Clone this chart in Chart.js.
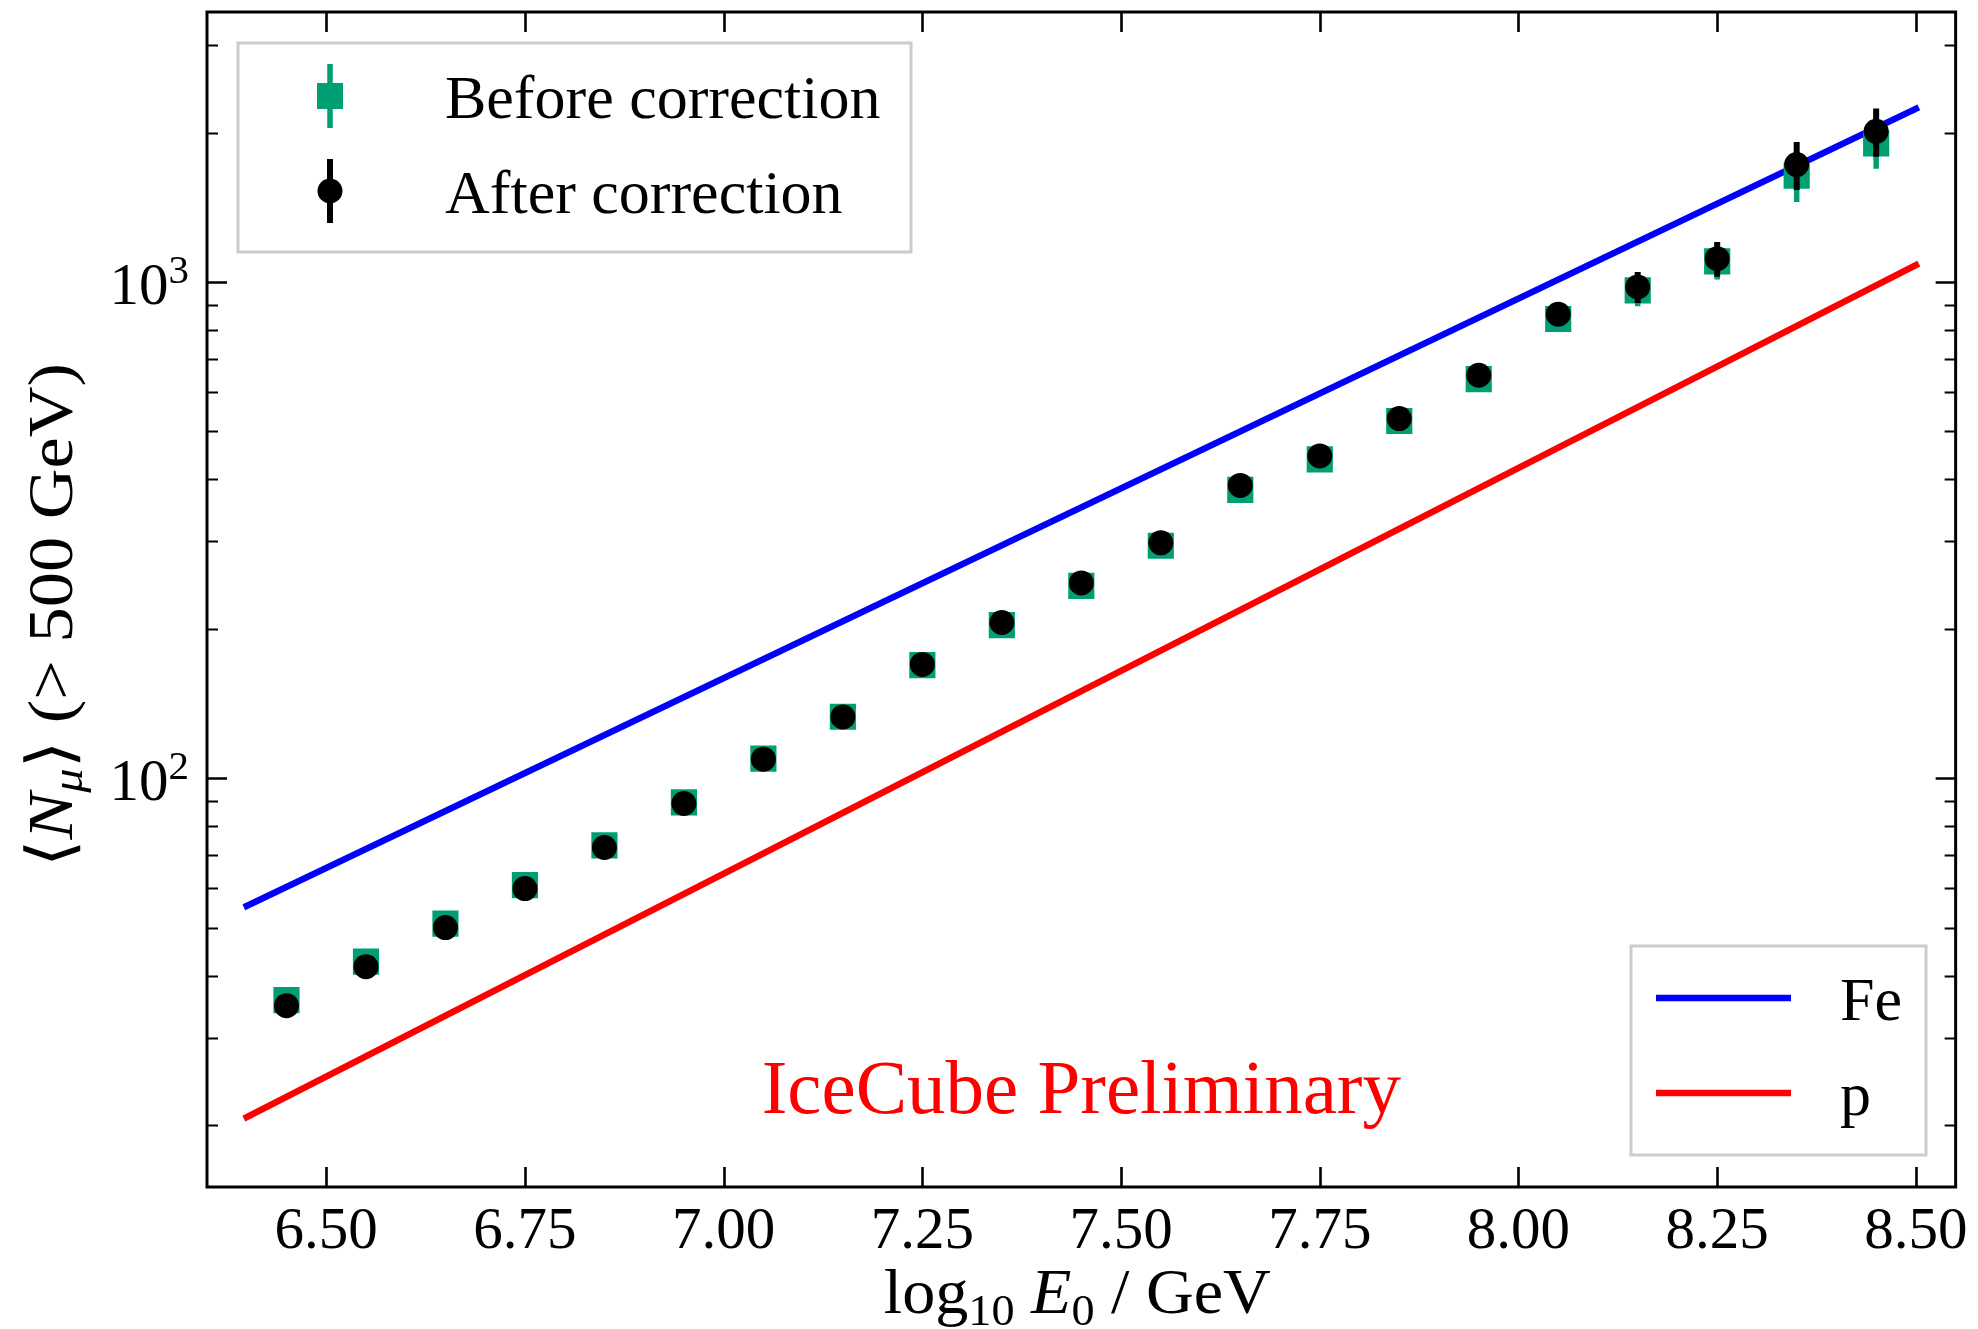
<!DOCTYPE html>
<html>
<head>
<meta charset="utf-8">
<title>Mean muon number vs primary energy</title>
<script src="https://cdn.jsdelivr.net/npm/chart.js@4/dist/chart.umd.min.js"></script>
<style>
  html, body { margin: 0; padding: 0; background: #ffffff; }
  #wrap { width: 1978px; height: 1329px; }
</style>
</head>
<body>
<div id="wrap"><canvas id="chart" width="1978" height="1329"></canvas></div>
<script>
// Bin centres in log10(E0 / GeV)
const energies = [6.45, 6.55, 6.65, 6.75, 6.85, 6.95, 7.05, 7.15, 7.25, 7.35, 7.45,
                  7.55, 7.65, 7.75, 7.85, 7.95, 8.05, 8.15, 8.25, 8.35, 8.45];

// <N_mu> (> 500 GeV) before the correction, with uncertainties
const nmuBefore = [35.7, 42.7, 50.9, 60.9, 73.2, 89.4, 109.5, 133.0, 169.0, 203.4, 244.0,
                   294.0, 381.0, 439.0, 524.5, 637.0, 842.0, 962.0, 1100.0, 1637.0, 1903.0];
const nmuBeforeErr = [1.0, 1.1, 1.3, 1.6, 2.0, 2.5, 3.0, 3.8, 5.0, 6.5, 8.5,
                      11.0, 15.0, 19.0, 25.0, 33.0, 45.0, 69.0, 89.0, 188.0, 211.0];

// <N_mu> (> 500 GeV) after the correction, with uncertainties
const nmuAfter = [34.8, 41.7, 50.0, 59.9, 72.5, 88.9, 109.2, 132.9, 169.5, 205.9, 247.5,
                  298.0, 389.0, 446.0, 530.6, 648.6, 860.8, 977.0, 1114.0, 1724.0, 2012.0];
const nmuAfterErr = [1.0, 1.1, 1.3, 1.6, 2.0, 2.5, 3.0, 3.8, 5.0, 6.5, 8.5,
                     11.0, 15.0, 19.0, 25.0, 33.0, 45.0, 70.0, 90.0, 191.0, 224.0];

// Simulation expectations (power laws, straight on log axes)
const modelEnergy = [6.4, 8.5];
const ironNmu = [55.3, 2234.0];
const protonNmu = [20.75, 1081.0];

// Axis ticks
const xTickValues = [6.5, 6.75, 7.0, 7.25, 7.5, 7.75, 8.0, 8.25, 8.5];
const yMajorTicks = [100, 1000];
const yMajorExponents = ['2', '3'];
const yMinorTicks = [20, 30, 40, 50, 60, 70, 80, 90, 200, 300, 400, 500, 600, 700, 800, 900, 2000, 3000];

const SERIF = '"Liberation Serif", "DejaVu Serif", serif';
const GREEN = '#009E73';

function toPoints(xs, ys) { return xs.map((x, i) => ({ x: x, y: ys[i] })); }

function fontStr(seg) {
  return (seg.italic ? 'italic ' : '') + seg.size + 'px ' + SERIF;
}

// Draws a run of text pieces (used for sub/superscripts); returns the total width
function richText(ctx, segs, x, y, align) {
  let total = 0;
  segs.forEach(s => { ctx.font = fontStr(s); s.w = ctx.measureText(s.t).width; total += s.w; });
  let cx = x;
  if (align === 'center') cx = x - total / 2;
  else if (align === 'right') cx = x - total;
  segs.forEach(s => {
    ctx.font = fontStr(s);
    ctx.fillText(s.t, cx, y + (s.dy || 0));
    cx += s.w;
  });
  return total;
}

// Vertical error bars, painted just before each dataset's markers
const errorBars = {
  id: 'errorBars',
  beforeDatasetDraw(chart, args) {
    const ds = chart.data.datasets[args.index];
    if (!ds.errors) return;
    const { ctx, chartArea, scales: { x, y } } = chart;
    ctx.save();
    ctx.beginPath();
    ctx.rect(chartArea.left, chartArea.top, chartArea.width, chartArea.height);
    ctx.clip();
    ctx.strokeStyle = ds.backgroundColor;
    ctx.lineWidth = ds.errorWidth;
    ctx.lineCap = 'butt';
    ds.data.forEach((p, i) => {
      const e = ds.errors[i];
      const px = x.getPixelForValue(p.x);
      ctx.beginPath();
      ctx.moveTo(px, y.getPixelForValue(p.y - e));
      ctx.lineTo(px, y.getPixelForValue(p.y + e));
      ctx.stroke();
    });
    ctx.restore();
  }
};

// Axes frame with inward ticks on all four sides
const frameAndTicks = {
  id: 'frameAndTicks',
  afterDatasetsDraw(chart) {
    const { ctx, chartArea: a, scales: { x, y } } = chart;
    ctx.save();
    ctx.strokeStyle = '#000';
    ctx.lineCap = 'butt';

    ctx.lineWidth = 2.6;
    xTickValues.forEach(v => {
      const px = Math.round(x.getPixelForValue(v)) + 0.5;
      ctx.beginPath();
      ctx.moveTo(px, a.bottom); ctx.lineTo(px, a.bottom - 20);
      ctx.moveTo(px, a.top); ctx.lineTo(px, a.top + 20);
      ctx.stroke();
    });
    yMajorTicks.forEach(v => {
      const py = Math.round(y.getPixelForValue(v)) + 0.5;
      ctx.beginPath();
      ctx.moveTo(a.left, py); ctx.lineTo(a.left + 20, py);
      ctx.moveTo(a.right, py); ctx.lineTo(a.right - 20, py);
      ctx.stroke();
    });
    ctx.lineWidth = 2.0;
    yMinorTicks.forEach(v => {
      const py = Math.round(y.getPixelForValue(v)) + 0.5;
      ctx.beginPath();
      ctx.moveTo(a.left, py); ctx.lineTo(a.left + 11, py);
      ctx.moveTo(a.right, py); ctx.lineTo(a.right - 11, py);
      ctx.stroke();
    });

    ctx.lineWidth = 3;
    ctx.strokeRect(a.left, a.top, a.width, a.height);
    ctx.restore();
  }
};

// Axis titles, y tick labels, legends and the annotation
const annotations = {
  id: 'annotations',
  afterDraw(chart) {
    const { ctx, chartArea: a, scales: { x, y } } = chart;
    const ds = chart.data.datasets;
    ctx.save();
    ctx.fillStyle = '#000';
    ctx.textBaseline = 'alphabetic';

    // y tick labels 10^2, 10^3
    yMajorTicks.forEach((v, i) => {
      const py = y.getPixelForValue(v);
      const segs = [
        { t: '10', size: 59 },
        { t: yMajorExponents[i], size: 41, dy: -21 }
      ];
      richText(ctx, segs, a.left - 18, py + 22, 'right');
    });

    // x axis title
    ctx.save();
    ctx.translate((a.left + a.right) / 2 - 4, 1313);
    ctx.scale(1.05, 1);
    richText(ctx, [
      { t: 'log', size: 63 },
      { t: '10', size: 44, dy: 12 },
      { t: ' ', size: 63 },
      { t: 'E', size: 63, italic: true },
      { t: '0', size: 44, dy: 12 },
      { t: ' / GeV', size: 63 }
    ], 0, 0, 'center');
    ctx.restore();

    // y axis title (rotated)
    ctx.save();
    ctx.translate(72, 615);
    ctx.rotate(-Math.PI / 2);
    ctx.scale(1.1, 1);
    richText(ctx, [
      { t: '\u27E8', size: 64 },
      { t: 'N', size: 64, italic: true },
      { t: '\u03BC', size: 44, italic: true, dy: 10 },
      { t: '\u27E9', size: 64 },
      { t: ' (> 500 GeV)', size: 64 }
    ], 0, 0, 'center');
    ctx.restore();

    // annotation
    ctx.fillStyle = '#ff0000';
    ctx.font = '77px ' + SERIF;
    ctx.textAlign = 'center';
    ctx.fillText('IceCube Preliminary', (a.left + a.right) / 2, 1113);
    ctx.textAlign = 'left';

    // legend boxes
    function box(x0, y0, x1, y1) {
      ctx.fillStyle = 'rgba(255,255,255,0.8)';
      ctx.fillRect(x0, y0, x1 - x0, y1 - y0);
      ctx.strokeStyle = '#cccccc';
      ctx.lineWidth = 3;
      ctx.strokeRect(x0, y0, x1 - x0, y1 - y0);
    }

    // upper-left legend: measurements
    box(238, 43, 911, 252);
    const mx = 330;
    // before correction: square with bar
    ctx.fillStyle = GREEN;
    ctx.fillRect(mx - 2.75, 64, 5.5, 64);
    ctx.fillRect(mx - 13, 96 - 13, 26, 26);
    // after correction: circle with bar
    ctx.fillStyle = '#000';
    ctx.fillRect(mx - 3, 159, 6, 64);
    ctx.beginPath();
    ctx.arc(mx, 191, 12.5, 0, Math.PI * 2);
    ctx.fill();
    ctx.font = '62px ' + SERIF;
    ctx.fillStyle = '#000';
    ctx.fillText(ds[1].label, 445, 118);
    ctx.fillText(ds[0].label, 445, 213);

    // lower-right legend: simulation lines
    box(1631, 946, 1926, 1155);
    ctx.lineWidth = 6.5;
    ctx.lineCap = 'butt';
    ctx.strokeStyle = ds[2].borderColor;
    ctx.beginPath(); ctx.moveTo(1656, 998); ctx.lineTo(1791, 998); ctx.stroke();
    ctx.strokeStyle = ds[3].borderColor;
    ctx.beginPath(); ctx.moveTo(1656, 1093); ctx.lineTo(1791, 1093); ctx.stroke();
    ctx.fillStyle = '#000';
    ctx.font = '62px ' + SERIF;
    ctx.fillText(ds[2].label, 1840, 1020);
    ctx.fillText(ds[3].label, 1840, 1115);

    ctx.restore();
  }
};

new Chart(document.getElementById('chart'), {
  type: 'scatter',
  data: {
    datasets: [
      {
        label: 'After correction',
        data: toPoints(energies, nmuAfter),
        errors: nmuAfterErr,
        errorWidth: 6,
        backgroundColor: '#000000',
        borderWidth: 0,
        pointStyle: 'circle',
        pointRadius: 12.5,
        showLine: false,
        order: 0
      },
      {
        label: 'Before correction',
        data: toPoints(energies, nmuBefore),
        errors: nmuBeforeErr,
        errorWidth: 5.5,
        backgroundColor: GREEN,
        borderWidth: 0,
        pointStyle: 'rect',
        pointRadius: 18.5,
        showLine: false,
        order: 1
      },
      {
        label: 'Fe',
        data: toPoints(modelEnergy, ironNmu),
        borderColor: '#0000ff',
        backgroundColor: '#0000ff',
        borderWidth: 6.5,
        borderCapStyle: 'square',
        pointRadius: 0,
        showLine: true,
        order: 2
      },
      {
        label: 'p',
        data: toPoints(modelEnergy, protonNmu),
        borderColor: '#ff0000',
        backgroundColor: '#ff0000',
        borderWidth: 6.5,
        borderCapStyle: 'square',
        pointRadius: 0,
        showLine: true,
        order: 3
      }
    ]
  },
  options: {
    responsive: false,
    animation: false,
    devicePixelRatio: 1,
    layout: { autoPadding: false, padding: { top: 12, right: 21, left: 0, bottom: 0 } },
    plugins: {
      legend: { display: false },
      tooltip: { enabled: false }
    },
    events: [],
    scales: {
      x: {
        type: 'linear',
        min: 6.35,
        max: 8.55,
        grid: { display: false, drawTicks: false },
        border: { display: false },
        afterBuildTicks: s => { s.ticks = xTickValues.map(v => ({ value: v })); },
        afterFit: s => { s.height = 142; },
        ticks: {
          autoSkip: false,
          maxRotation: 0,
          padding: 10,
          color: '#000',
          font: { family: SERIF, size: 59 },
          callback: v => Number(v).toFixed(2)
        }
      },
      y: {
        type: 'logarithmic',
        min: 15,
        max: 3500,
        grid: { display: false, drawTicks: false },
        border: { display: false },
        ticks: { display: false },
        afterFit: s => { s.width = 207; }
      }
    }
  },
  plugins: [errorBars, frameAndTicks, annotations]
});
</script>
</body>
</html>
